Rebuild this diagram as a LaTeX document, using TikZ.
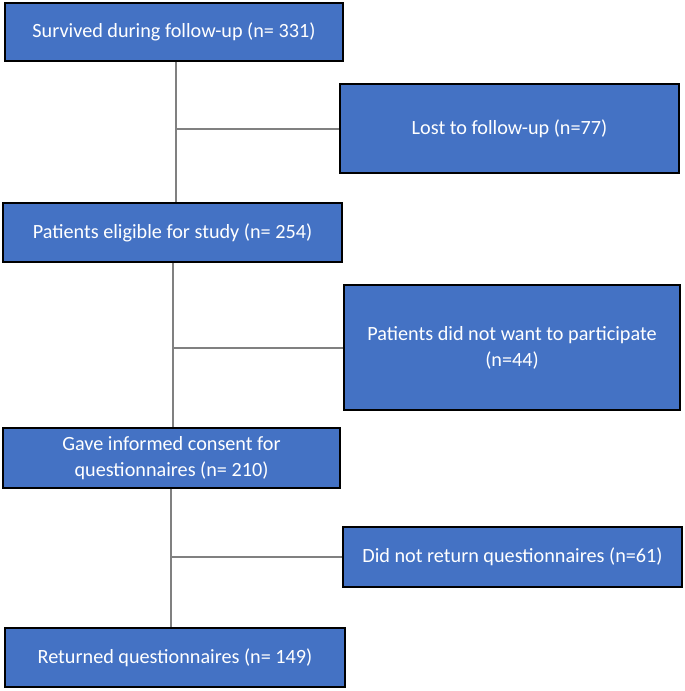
\documentclass[tikz,border=0pt]{standalone}
\usepackage{fontspec}
\setmainfont{Carlito}
\usepackage{xcolor}
\definecolor{boxblue}{HTML}{4472C4}
\definecolor{linegray}{HTML}{808080}

\begin{document}
\begin{tikzpicture}[x=1pt,y=-1pt]
			\tikzstyle{stage} = [draw=black, line width=1.5pt, fill=boxblue, text=white, inner sep=0pt, align=center, font=\fontsize{20.2}{26}\selectfont]
			\tikzstyle{excluded} = [stage]
			\tikzset{link/.style = {draw=linegray, line width=2pt}}

			\useasboundingbox (0,0) rectangle (685,691);

			\node[stage, minimum width=338pt, minimum height=58pt](survived) at (174,32) {Survived during follow-up (n= 331)};
			\node[excluded, minimum width=339pt, minimum height=89pt](lost) at (509.5,128.5) {Lost to follow-up (n=77)};
			\node[stage, minimum width=339pt, minimum height=59pt](eligible) at (172.5,232.5) {Patients eligible for study (n= 254)};
			\node[excluded, minimum width=336pt, minimum height=125pt](declined) at (512,347.5) {Patients did not want to participate\\(n=44)};
			\node[stage, minimum width=337pt, minimum height=60pt](consent) at (171.5,458) {Gave informed consent for\\questionnaires (n= 210)};
			\node[excluded, minimum width=339pt, minimum height=60pt](noreturn) at (512.5,557) {Did not return questionnaires (n=61)};
			\node[stage, minimum width=340pt, minimum height=59pt](returned) at (175,657.5) {Returned questionnaires (n= 149)};

			\coordinate(split1) at (176,128.5);
			\coordinate(split2) at (173,347.5);
			\coordinate(split3) at (171,557);

			\draw[link](survived.south -| split1) to (eligible.north -| split1);
			\draw[link](split1) to (lost.west);
			\draw[link](eligible.south -| split2) to (consent.north -| split2);
			\draw[link](split2) to (declined.west);
			\draw[link](consent.south -| split3) to (returned.north -| split3);
			\draw[link](split3) to (noreturn.west);

			\end{tikzpicture}
\end{document}
